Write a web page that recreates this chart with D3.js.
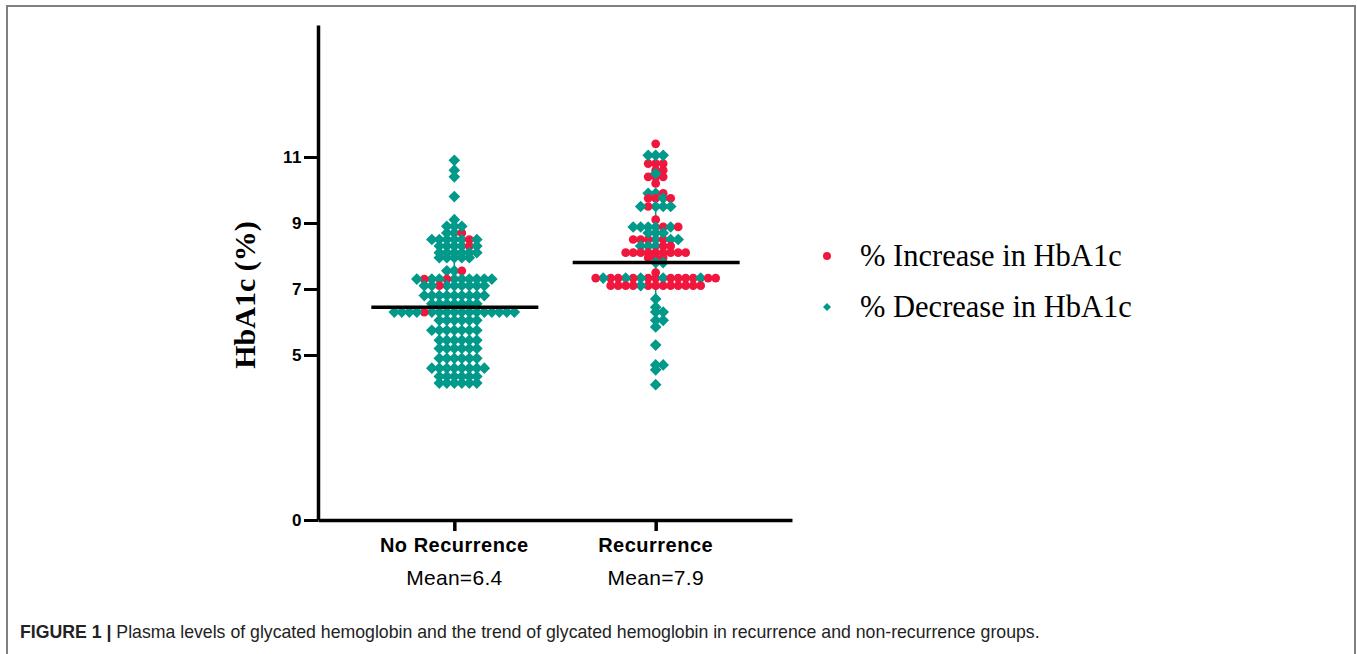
<!DOCTYPE html>
<html>
<head>
<meta charset="utf-8">
<script src="https://cdn.jsdelivr.net/npm/d3@7"></script>
<style>
  body { margin: 0; background: #fff; }
</style>
</head>
<body>
<div id="chart"></div>
<script>
// groups on the x axis and the text under them
const groups = ["No Recurrence", "Recurrence"];
const meanLabels = ["Mean=6.4", "Mean=7.9"];
// where the black mean bars sit in the picture
const meanValues = [6.45, 7.8];
// thin teal whisker through the middle of each swarm
const whiskerLow = [5.0, 6.7];
const whiskerHigh = [8.9, 9.5];
const yTicks = [0, 5, 7, 9, 11];

// HbA1c values (red = increase, teal = decrease)
const noRecIncrease = [8.7, 8.5, 8.3, 7.55, 7.3, 7.3, 7.1, 6.3];
const noRecDecrease = [
  10.9, 10.6, 10.4, 9.8, 9.1,
  8.9, 8.9, 8.9, 8.7, 8.7,
  8.5, 8.5, 8.5, 8.5, 8.5, 8.5,
  8.3, 8.3, 8.3, 8.3, 8.3,
  8.1, 8.1, 8.1, 8.1, 8.1, 8.1,
  7.95, 7.95, 7.95, 7.95, 7.95,
  7.55, 7.55,
  7.3, 7.3, 7.3, 7.3, 7.3, 7.3, 7.3, 7.3, 7.3,
  7.1, 7.1, 7.1, 7.1, 7.1, 7.1, 7.1, 7.1,
  6.8, 6.8, 6.8, 6.8, 6.8, 6.8, 6.8, 6.8, 6.8,
  6.55, 6.55, 6.55, 6.55, 6.55, 6.55, 6.55,
  6.3, 6.3, 6.3, 6.3, 6.3, 6.3, 6.3, 6.3, 6.3, 6.3, 6.3, 6.3, 6.3, 6.3, 6.3, 6.3,
  6.05, 6.05, 6.05, 6.05, 6.05, 6.05,
  5.75, 5.75, 5.75, 5.75, 5.75, 5.75, 5.75,
  5.45, 5.45, 5.45, 5.45, 5.45, 5.45,
  5.2, 5.2, 5.2, 5.2, 5.2, 5.2,
  4.9, 4.9, 4.9, 4.9, 4.9, 4.9,
  4.6, 4.6, 4.6, 4.6, 4.6, 4.6, 4.6, 4.6,
  4.35, 4.35, 4.35, 4.35, 4.35, 4.35,
  4.15, 4.15, 4.15, 4.15, 4.15, 4.15
];
const recIncrease = [
  11.4, 10.8, 10.8, 10.8, 10.6, 10.6, 10.4, 10.4, 10.4, 10.2,
  9.9, 9.75, 9.75, 9.75, 9.5, 9.1, 8.88, 8.88,
  8.5, 8.5, 8.5, 8.5, 8.3, 8.3,
  8.1, 8.1, 8.1, 8.1, 8.1, 8.1, 8.1, 8.1, 8.1,
  7.95, 7.95, 7.95, 7.5,
  7.33, 7.33, 7.33, 7.33, 7.33, 7.33, 7.33, 7.33, 7.33, 7.33, 7.33, 7.33,
  7.1, 7.1, 7.1, 7.1, 7.1, 7.1, 7.1, 7.1, 7.1, 7.1, 7.1, 7.1
];
const recDecrease = [
  11.05, 11.05, 11.05, 10.5, 9.9, 9.9, 9.75,
  9.5, 9.5, 9.5, 9.5,
  8.88, 8.88, 8.88, 8.88, 8.88, 8.7, 8.7, 8.7,
  8.5, 8.5, 8.5, 8.3, 8.3, 8.3, 7.8, 7.8,
  7.33, 7.33, 7.33, 7.33, 7.33, 7.1,
  6.7, 6.45, 6.3, 6.3, 6.05, 6.05, 5.85, 5.3, 4.7, 4.7, 4.55, 4.1
];

const legendLabels = ["% Increase in HbA1c", "% Decrease in HbA1c"];
const red = "#f0163d", teal = "#00998a";

const W = 1357, H = 654;
const svg = d3.select("#chart").append("svg")
  .attr("width", W).attr("height", H)
  .style("font-family", "Arial, 'Liberation Sans', sans-serif");

// figure frame
svg.append("rect")
  .attr("x", 7).attr("y", 6).attr("width", 1348).attr("height", 700)
  .attr("fill", "none").attr("stroke", "#808080").attr("stroke-width", 2);

const y = d3.scaleLinear().domain([0, 15]).range([520, 25]);
const x = d3.scalePoint().domain(groups).range([318, 792]).padding(0.677);

// y axis
const yAxis = svg.append("g")
  .attr("transform", "translate(318,0)")
  .call(d3.axisLeft(y).tickValues(yTicks).tickSize(14).tickSizeOuter(0).tickPadding(2));
yAxis.select(".domain").attr("stroke-width", 3.5);
yAxis.selectAll(".tick line").attr("stroke-width", 3);
yAxis.selectAll(".tick text")
  .attr("font-size", 17).attr("font-weight", "bold")
  .attr("letter-spacing", 0.5).attr("fill", "#000");

// x axis
const xAxis = svg.append("g")
  .attr("transform", "translate(0,520)")
  .call(d3.axisBottom(x).tickSize(11).tickSizeOuter(0));
xAxis.select(".domain").attr("stroke-width", 3.5);
xAxis.selectAll(".tick line").attr("stroke-width", 3.5);
xAxis.selectAll(".tick text").remove();

svg.selectAll(".grp-label").data(groups).join("text")
  .attr("class", "grp-label")
  .attr("x", d => x(d)).attr("y", 552)
  .attr("text-anchor", "middle")
  .attr("font-size", 20).attr("font-weight", "bold").attr("letter-spacing", 0.5)
  .text(d => d);

svg.selectAll(".mean-label").data(meanLabels).join("text")
  .attr("class", "mean-label")
  .attr("x", (d, i) => x(groups[i])).attr("y", 585)
  .attr("text-anchor", "middle")
  .attr("font-size", 21).attr("letter-spacing", 0.3)
  .text(d => d);

// y title
svg.append("text")
  .attr("transform", "translate(255,295) rotate(-90)")
  .attr("text-anchor", "middle")
  .attr("font-family", "'Liberation Serif', 'Times New Roman', serif")
  .attr("font-weight", "bold").attr("font-size", 30)
  .text("HbA1c (%)");

// build the swarm: one row per value, reds and teals interleaved
const points = [];
[[noRecIncrease, noRecDecrease], [recIncrease, recDecrease]].forEach(([inc, dec], gi) => {
  const all = inc.map(v => ({ g: gi, v, kind: "inc" }))
    .concat(dec.map(v => ({ g: gi, v, kind: "dec" })));
  const rows = d3.group(all, d => d.v);
  rows.forEach(row => {
    const r = row.filter(d => d.kind === "inc");
    const t = row.filter(d => d.kind === "dec");
    r.forEach((d, i) => d.key = (i + 0.5) / r.length);
    t.forEach((d, i) => d.key = (i + 0.3) / t.length);
    row.sort((a, b) => a.key - b.key);
    row.forEach((d, k) => {
      const off = k === 0 ? 0 : (k % 2 ? (k + 1) / 2 : -k / 2);
      d.dx = off * 7.5;
      points.push(d);
    });
  });
});

// whiskers behind the dots
svg.selectAll(".whisker").data(groups).join("line")
  .attr("class", "whisker")
  .attr("x1", d => x(d)).attr("x2", d => x(d))
  .attr("y1", (d, i) => y(whiskerLow[i])).attr("y2", (d, i) => y(whiskerHigh[i]))
  .attr("stroke", teal).attr("stroke-width", 1.5);

const diamond = d3.symbol(d3.symbolSquare, 68)();
const dot = d3.symbol(d3.symbolCircle, 60)();
svg.append("g").selectAll("path").data(points).join("path")
  .attr("d", d => d.kind === "inc" ? dot : diamond)
  .attr("transform", d => `translate(${x(groups[d.g]) + d.dx},${y(d.v)}) rotate(45)`)
  .attr("fill", d => d.kind === "inc" ? red : teal);

// mean bars
svg.selectAll(".mean").data(groups).join("line")
  .attr("class", "mean")
  .attr("x1", d => x(d) - 83).attr("x2", d => x(d) + 84)
  .attr("y1", (d, i) => y(meanValues[i])).attr("y2", (d, i) => y(meanValues[i]))
  .attr("stroke", "#000").attr("stroke-width", 3.5);

// legend
const legend = svg.append("g");
legend.append("path")
  .attr("d", d3.symbol(d3.symbolCircle, 50)())
  .attr("transform", "translate(827,256)").attr("fill", red);
legend.append("path")
  .attr("d", d3.symbol(d3.symbolSquare, 32)())
  .attr("transform", "translate(827,307) rotate(45)").attr("fill", teal);
legend.selectAll("text").data(legendLabels).join("text")
  .attr("x", 860).attr("y", (d, i) => 266 + i * 51)
  .attr("font-family", "'Liberation Serif', 'Times New Roman', serif")
  .attr("font-size", 30.5)
  .text(d => d);

// caption
const cap = svg.append("text")
  .attr("x", 20).attr("y", 638)
  .attr("font-size", 17.7).attr("fill", "#222");
cap.append("tspan").attr("font-weight", "bold").text("FIGURE 1 |");
cap.append("tspan").text(" Plasma levels of glycated hemoglobin and the trend of glycated hemoglobin in recurrence and non-recurrence groups.");
</script>
</body>
</html>
